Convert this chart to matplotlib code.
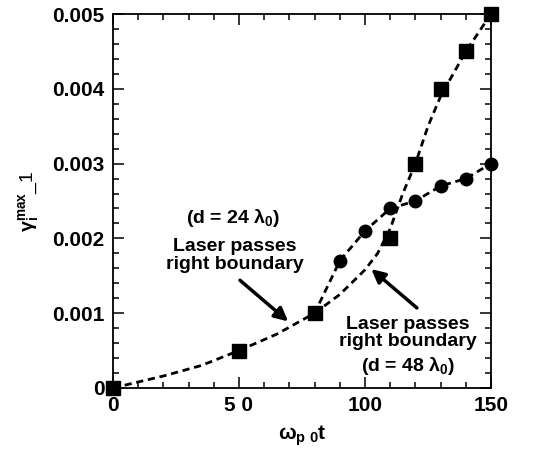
import matplotlib.pyplot as plt
from matplotlib.ticker import MultipleLocator

# -----------------------------------------
# Données
# -----------------------------------------
t_sq = [0, 50, 80, 110, 120, 130, 140, 150]                        # d = 48 lambda0 (carrés)
g_sq = [0.0, 0.0005, 0.001, 0.002, 0.003, 0.004, 0.0045, 0.005]
t_ci = [90, 100, 110, 120, 130, 140, 150]                          # d = 24 lambda0 (cercles)
g_ci = [0.0017, 0.0021, 0.0024, 0.0025, 0.0027, 0.0028, 0.003]

# courbes en pointillés (lues à l'oeil)
t_fit_a = [0, 20, 35, 50, 65, 80, 90, 100, 110, 120, 130, 140, 150]
g_fit_a = [0.0, 0.00016, 0.0003, 0.0005, 0.00072, 0.001, 0.0017, 0.0021, 0.0024, 0.0025, 0.0027, 0.0028, 0.003]
t_fit_b = [80, 90, 100, 105, 110, 115, 120, 125, 130, 140, 150]
g_fit_b = [0.001, 0.00125, 0.00158, 0.0018, 0.00213, 0.0026, 0.003, 0.0035, 0.0039, 0.0045, 0.005]

xticks = [0, 50, 100, 150]
xtick_labels = ["0", "5 0", "100", "150"]
yticks = [0, 0.001, 0.002, 0.003, 0.004, 0.005]
ytick_labels = ["0", "0.001", "0.002", "0.003", "0.004", "0.005"]

plt.rcParams['font.family'] = ['Liberation Sans', 'DejaVu Sans']
plt.rcParams['font.weight'] = 'bold'
plt.rcParams['mathtext.fontset'] = 'custom'
plt.rcParams['mathtext.rm'] = 'Liberation Sans:bold'
plt.rcParams['mathtext.it'] = 'Liberation Sans:bold'
plt.rcParams['mathtext.default'] = 'rm'

fig = plt.figure(figsize=(5.44, 4.55), dpi=100)
ax = fig.add_axes([0.2077, 0.1473, 0.6949, 0.8219])

# -----------------------------------------
# Courbes et points
# -----------------------------------------
ax.plot(t_fit_a, g_fit_a, color="black", lw=2.0, dashes=(2.6, 1.7))
ax.plot(t_fit_b, g_fit_b, color="black", lw=2.0, dashes=(2.6, 1.7))
ax.plot(t_sq, g_sq, "s", color="black", ms=9.5, clip_on=False, zorder=5)
ax.plot(t_ci, g_ci, "o", color="black", ms=9.0, clip_on=False, zorder=5)

# -----------------------------------------
# Annotations
# -----------------------------------------
ax.text(47.6, 0.00227, r"(d = 24 $\lambda_0$)", ha="center", va="center", fontsize=14, fontweight="bold")
ax.text(48.4, 0.00177, "Laser passes\nright boundary", ha="center", va="center", fontsize=14,
        fontweight="bold", linespacing=1.05)
ax.annotate("", xy=(69.5, 0.00089), xytext=(50.4, 0.00144),
            arrowprops=dict(arrowstyle="-|>", color="black", lw=2.5, mutation_scale=20,
                            shrinkA=0, shrinkB=0))
ax.text(117.1, 0.000735, "Laser passes\nright boundary", ha="center", va="center", fontsize=14,
        fontweight="bold", linespacing=1.05)
ax.text(117.1, 0.00029, r"(d = 48 $\lambda_0$)", ha="center", va="center", fontsize=14, fontweight="bold")
ax.annotate("", xy=(102.5, 0.00159), xytext=(120.6, 0.00107),
            arrowprops=dict(arrowstyle="-|>", color="black", lw=2.5, mutation_scale=20,
                            shrinkA=0, shrinkB=0))

# -----------------------------------------
# Axes
# -----------------------------------------
ax.set_xlim(0, 150)
ax.set_ylim(0, 0.005)
ax.set_xticks(xticks)
ax.set_xticklabels(xtick_labels)
ax.set_yticks(yticks)
ax.set_yticklabels(ytick_labels)
ax.xaxis.set_minor_locator(MultipleLocator(10))
ax.yaxis.set_minor_locator(MultipleLocator(0.0002))
ax.tick_params(which="both", direction="in", top=True, right=True, width=1.1)
ax.tick_params(which="major", length=8, labelsize=15, pad=6)
ax.tick_params(which="minor", length=4)
for s in ax.spines.values():
    s.set_linewidth(1.3)

ax.set_xlabel(r"$\omega_{p\ 0}t$", fontsize=15, labelpad=6)
ax.set_ylabel(r"$\gamma_i^{max}$_1", fontsize=14, labelpad=8)

fig.savefig("out.png", dpi=100)
